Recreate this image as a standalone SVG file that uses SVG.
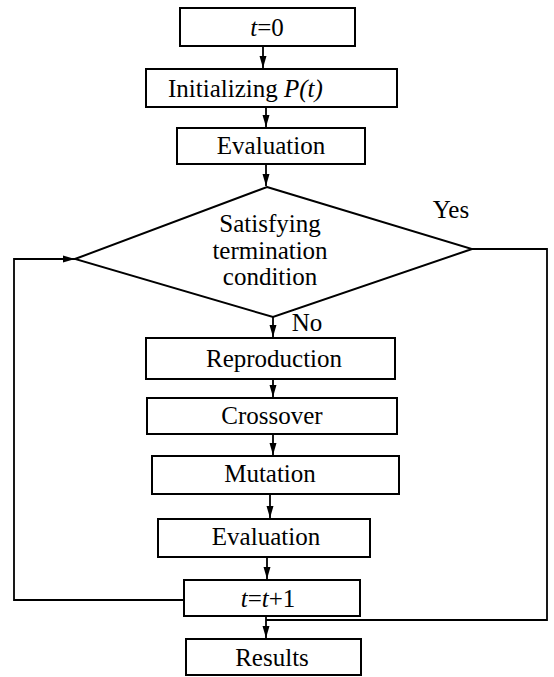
<svg xmlns="http://www.w3.org/2000/svg" width="554" height="677" viewBox="0 0 554 677">
<style>
.box{fill:#fff;stroke:#000;stroke-width:2}
.ln{fill:none;stroke:#000;stroke-width:1.8}
.t{font-family:'Liberation Serif','Times New Roman',serif;font-size:25px;fill:#000;text-anchor:middle}
.i{font-style:italic}
</style>
<defs>
<marker id="ah" markerUnits="userSpaceOnUse" markerWidth="13" markerHeight="8" refX="12" refY="4" orient="auto">
<path d="M0,0.5 L12,4 L0,7.5 z" fill="#000"/>
</marker>
</defs>
<rect width="554" height="677" fill="#fff"/>
<g id="connectors">
<line class="ln" x1="263" y1="46" x2="263" y2="68" marker-end="url(#ah)"/>
<line class="ln" x1="266" y1="107" x2="266" y2="127" marker-end="url(#ah)"/>
<line class="ln" x1="266" y1="164" x2="266" y2="186" marker-end="url(#ah)"/>
<line class="ln" x1="273" y1="317" x2="273" y2="337" marker-end="url(#ah)"/>
<line class="ln" x1="273" y1="379" x2="273" y2="397" marker-end="url(#ah)"/>
<line class="ln" x1="273" y1="434" x2="273" y2="455" marker-end="url(#ah)"/>
<line class="ln" x1="270" y1="494" x2="270" y2="518" marker-end="url(#ah)"/>
<line class="ln" x1="267" y1="557" x2="267" y2="579" marker-end="url(#ah)"/>
<line class="ln" x1="266" y1="616" x2="266" y2="638" marker-end="url(#ah)"/>
<path class="ln" d="M184,600 H14 V259 H75" marker-end="url(#ah)"/>
<path class="ln" d="M472,249 H547 V620 H266"/>
<text class="t" x="451" y="218">Yes</text>
<text class="t" x="307" y="331">No</text>
</g>
<g id="n_t0">
<rect class="box" x="180" y="8" width="175" height="38"/>
<text class="t" x="267" y="36"><tspan class="i">t</tspan>=0</text>
</g>
<g id="n_init">
<rect class="box" x="146" y="69" width="251" height="38"/>
<text class="t" x="168" y="97" style="text-anchor:start">Initializing <tspan class="i">P(t)</tspan></text>
</g>
<g id="n_eval1">
<rect class="box" x="177" y="128" width="188" height="36"/>
<text class="t" x="271" y="154">Evaluation</text>
</g>
<g id="n_cond">
<polygon class="box" points="267,187 472,249 273,317 75,259"/>
<text class="t" x="270" y="232">Satisfying</text>
<text class="t" x="270" y="259">termination</text>
<text class="t" x="270" y="285">condition</text>
</g>
<g id="n_repro">
<rect class="box" x="146" y="338" width="249" height="41"/>
<text class="t" x="274" y="367">Reproduction</text>
</g>
<g id="n_cross">
<rect class="box" x="147" y="398" width="250" height="36"/>
<text class="t" x="272" y="424">Crossover</text>
</g>
<g id="n_mut">
<rect class="box" x="152" y="456" width="247" height="38"/>
<text class="t" x="270" y="482">Mutation</text>
</g>
<g id="n_eval2">
<rect class="box" x="158" y="519" width="212" height="38"/>
<text class="t" x="266" y="545">Evaluation</text>
</g>
<g id="n_inc">
<rect class="box" x="184" y="580" width="176" height="36"/>
<text class="t" x="268" y="607"><tspan class="i">t</tspan>=<tspan class="i">t</tspan>+1</text>
</g>
<g id="n_results">
<rect class="box" x="186" y="639" width="175" height="36"/>
<text class="t" x="272" y="666">Results</text>
</g>
</svg>
